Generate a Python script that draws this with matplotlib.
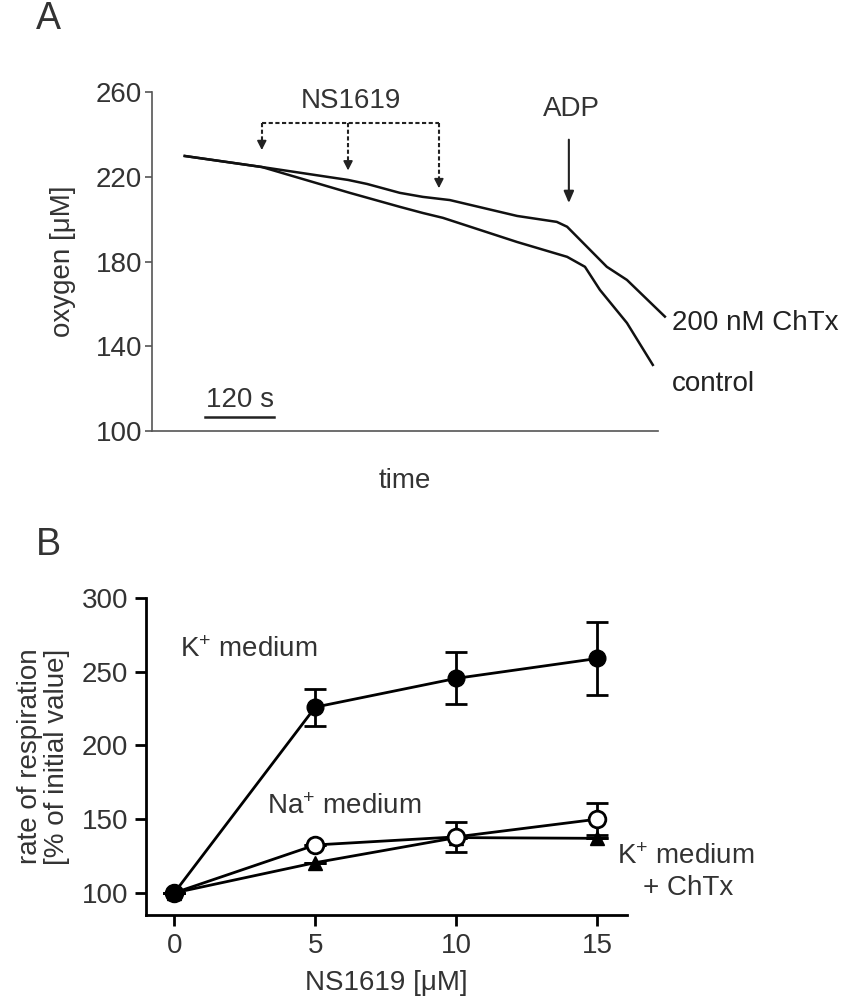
import numpy as np
import matplotlib
matplotlib.use("Agg")
import matplotlib.pyplot as plt

plt.rcParams['font.family'] = ['Liberation Sans', 'DejaVu Sans']
plt.rcParams['mathtext.fontset'] = 'custom'
plt.rcParams['mathtext.rm'] = 'Liberation Sans'
plt.rcParams['mathtext.it'] = 'Liberation Sans:italic'
plt.rcParams['mathtext.bf'] = 'Liberation Sans:bold'

# ---------------- Panel A data (time in s, oxygen in uM) ----------------
chtx_t = [57, 191, 341, 374, 431, 471, 518, 635, 704, 722, 791, 826, 892]
chtx_o = [229.8, 224.6, 218.5, 216.6, 212.4, 210.5, 209.0, 201.5, 198.7, 196.4, 177.5, 171.3, 154.0]
ctrl_t = [57, 191, 344, 431, 471, 506, 635, 722, 753, 779, 826, 871]
ctrl_o = [229.8, 224.6, 212.4, 205.8, 202.9, 200.6, 189.2, 182.2, 177.5, 166.6, 151.0, 131.2]
ns1619_times = [191, 341, 499]
adp_time = 725
a_yticks = [100, 140, 180, 220, 260]

# ---------------- Panel B data ----------------
ns_conc = [0, 5, 10, 15]
k_med = [100, 226, 245.5, 259]
k_err = [0, 12.5, 17.6, 24.7]
na_med = [100, 132.5, 138, 150]
na_err = [0, 0, 10, 11]
k_chtx = [100, 120.5, 137.5, 137]
k_chtx_err = [0, 0, 0, 0]
b_yticks = [100, 150, 200, 250, 300]

FS = 20
fig = plt.figure(figsize=(8.5, 10), dpi=100)

# ================= Panel A =================
axA = fig.add_axes([0.1788, 0.569, 0.5953, 0.339])
axA.set_xlim(0, 880)
axA.set_ylim(100, 260)
grey = '#555555'
for s in ['top', 'right']:
    axA.spines[s].set_visible(False)
for s in ['left', 'bottom']:
    axA.spines[s].set_color(grey)
    axA.spines[s].set_linewidth(1.2)
axA.set_xticks([])
axA.set_yticks(a_yticks)
axA.tick_params(axis='y', direction='out', length=5, width=1.2, color=grey,
                labelsize=FS, labelcolor='#333333', pad=2)
axA.set_ylabel('oxygen [μM]', fontsize=FS, color='#333333', labelpad=14)
axA.set_xlabel('time', fontsize=FS, color='#333333', labelpad=27)

axA.plot(chtx_t, chtx_o, color='#111111', lw=1.8, clip_on=False)
axA.plot(ctrl_t, ctrl_o, color='#111111', lw=1.8, clip_on=False)

# NS1619 dashed bracket with arrows
bracket_y = 245.4
tip_off = [8, 4.5, 5]
axA.plot([ns1619_times[0], ns1619_times[-1]], [bracket_y, bracket_y],
         color='#222222', lw=1.5, ls=(0, (2, 1.2)))
for t, off in zip(ns1619_times, tip_off):
    tip = np.interp(t, chtx_t, chtx_o) + off
    axA.plot([t, t], [bracket_y, tip + 3], color='#222222', lw=1.5, ls=(0, (2, 1.2)))
    axA.annotate('', xy=(t, tip), xytext=(t, tip + 3.2),
                 arrowprops=dict(arrowstyle='-|>,head_length=0.55,head_width=0.28',
                                 color='#222222', lw=1.2, shrinkA=0, shrinkB=0))
axA.text(np.mean(ns1619_times[:2]) + 80, 249.5, 'NS1619', fontsize=FS,
         color='#333333', ha='center', va='bottom')

# ADP arrow
adp_tip = np.interp(adp_time, chtx_t, chtx_o) + 12
axA.annotate('', xy=(adp_time, adp_tip), xytext=(adp_time, 237.5),
             arrowprops=dict(arrowstyle='-|>,head_length=0.7,head_width=0.3',
                             color='#222222', lw=1.5, shrinkA=0, shrinkB=0))
axA.text(adp_time + 5, 246, 'ADP', fontsize=FS, color='#333333', ha='center', va='bottom')

# scale bar
axA.plot([93, 213], [106.7, 106.7], color='#222222', lw=1.8)
axA.text(153, 108.3, '120 s', fontsize=FS, color='#333333', ha='center', va='bottom')

# trace labels
axA.text(905, 151, '200 nM ChTx', fontsize=FS, color='#222222', ha='left', va='center',
         clip_on=False)
axA.text(905, 122, 'control', fontsize=FS, color='#222222', ha='left', va='center',
         clip_on=False)

fig.text(0.042, 0.999, 'A', fontsize=27, color='#333333', ha='left', va='top')

# ================= Panel B =================
axB = fig.add_axes([0.1718, 0.085, 0.5659, 0.317])
axB.set_xlim(-1, 16.05)
axB.set_ylim(85, 300)
for s in ['top', 'right']:
    axB.spines[s].set_visible(False)
for s in ['left', 'bottom']:
    axB.spines[s].set_linewidth(2)
    axB.spines[s].set_color('black')
axB.set_xticks(ns_conc)
axB.set_yticks(b_yticks)
axB.tick_params(direction='out', length=8, width=2, labelsize=FS,
                labelcolor='#333333', pad=5)

ekw = dict(color='black', lw=2, capsize=8, capthick=2, clip_on=False)
axB.errorbar(ns_conc, k_chtx, yerr=k_chtx_err, marker='^', ms=10,
             mfc='black', mec='black', **ekw)
axB.errorbar(ns_conc, na_med, yerr=na_err, marker='o', ms=12,
             mfc='white', mec='black', mew=2, **ekw)
axB.errorbar(ns_conc, k_med, yerr=k_err, marker='o', ms=12,
             mfc='black', mec='black', **ekw)

axB.text(0.2, 265, r'K$^{+}$ medium', fontsize=FS, color='#333333', ha='left', va='center')
axB.text(3.3, 158, r'Na$^{+}$ medium', fontsize=FS, color='#333333', ha='left', va='center')
axB.text(15.7, 124, r'K$^{+}$ medium', fontsize=FS, color='#333333', ha='left', va='center',
         clip_on=False)
axB.text(18.2, 103, '+ ChTx', fontsize=FS, color='#333333', ha='center', va='center',
         clip_on=False)

axB.set_xlabel('NS1619 [μM]', fontsize=FS, color='#333333', labelpad=8)
axB.set_ylabel('rate of respiration\n[% of initial value]', fontsize=FS,
               color='#333333', labelpad=8, linespacing=1.05)

fig.text(0.042, 0.473, 'B', fontsize=27, color='#333333', ha='left', va='top')

fig.savefig('out.png', dpi=100)
